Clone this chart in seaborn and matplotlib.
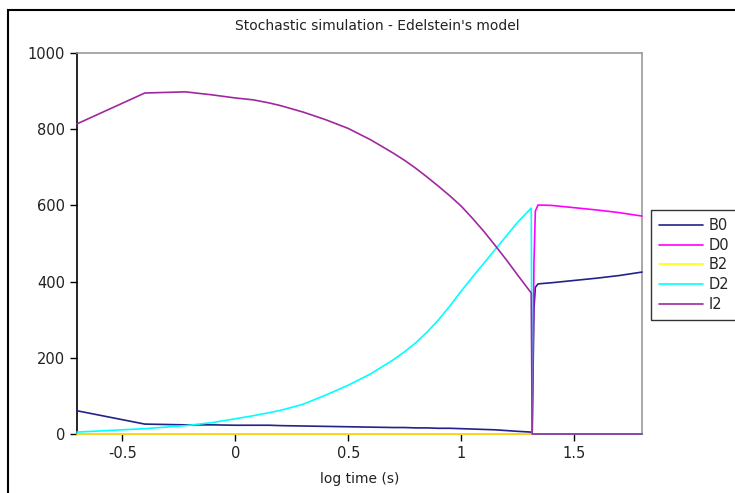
import numpy as np
import pandas as pd
import matplotlib
matplotlib.use("Agg")
import matplotlib.pyplot as plt
import seaborn as sns
from matplotlib.patches import Rectangle

# ---- data ----
log_time = [-0.7, -0.4, -0.22, -0.1, 0.0, 0.08, 0.15, 0.2, 0.3, 0.4, 0.5, 0.6, 0.7,
            0.75, 0.8, 0.85, 0.9, 0.95, 1.0, 1.05, 1.1, 1.15, 1.2, 1.25, 1.31,
            1.314, 1.322, 1.328, 1.34, 1.4, 1.5, 1.6, 1.7, 1.8]
B0 = [61, 26, 24, 24, 23, 23, 23, 22, 21, 20, 19, 18, 17,
      17, 16, 16, 15, 15, 14, 13, 12, 11, 9, 7, 5,
      1, 330, 385, 394, 397, 403, 409, 416, 425]
D0 = [0, 0, 0, 0, 0, 0, 0, 0, 0, 0, 0, 0, 0,
      0, 0, 0, 0, 0, 0, 0, 0, 0, 0, 0, 0,
      0, 450, 585, 601, 600, 594, 588, 581, 572]
B2 = [0] * 34
D2 = [5, 14, 22, 30, 40, 48, 56, 62, 78, 102, 128, 158, 195,
      216, 240, 268, 300, 336, 375, 412, 448, 484, 520, 556, 593,
      0, 0, 0, 0, 0, 0, 0, 0, 0]
I2 = [814, 895, 898, 890, 882, 877, 869, 862, 845, 825, 802, 772, 737,
      718, 697, 674, 650, 625, 598, 566, 532, 495, 457, 417, 370,
      0, 0, 0, 0, 0, 0, 0, 0, 0]
species = ["B0", "D0", "B2", "D2", "I2"]
colors = ["#22228a", "#ff00ff", "#ffff00", "#00ffff", "#a0289f"]
x_ticks = [-0.5, 0, 0.5, 1, 1.5]
x_ticklabels = ["-0.5", "0", "0.5", "1", "1.5"]
y_ticks = [0, 200, 400, 600, 800, 1000]

series = {"B0": B0, "D0": D0, "B2": B2, "D2": D2, "I2": I2}
df = pd.concat([pd.DataFrame({"log time": log_time, "value": v, "species": k})
                for k, v in series.items()], ignore_index=True)

sns.set_style("white")
plt.rcParams["font.family"] = ["DejaVu Sans"]
plt.rcParams["axes.unicode_minus"] = False

W, H = 735, 493
fig = plt.figure(figsize=(W / 100, H / 100), dpi=100)
ax = fig.add_axes([77 / W, (H - 434) / H, (642 - 77) / W, (434 - 53) / H])

sns.lineplot(data=df, x="log time", y="value", hue="species", hue_order=species,
             palette=colors, estimator=None, sort=False, linewidth=1.2, ax=ax,
             legend=True)
for ln in ax.get_lines():
    ln.set_zorder(3)
    ln.set_clip_on(False)

ax.set_xlim(-0.7, 1.8)
ax.set_ylim(0, 1000)
ax.set_xticks(x_ticks)
ax.set_xticklabels(x_ticklabels)
ax.set_yticks(y_ticks)
ax.tick_params(axis="both", direction="out", length=5, width=1, colors="black",
               labelsize=10.5, labelcolor="#222222", bottom=True, left=True)
ax.set_xlabel("log time (s)", fontsize=10, color="#222222", labelpad=8)
ax.set_ylabel("")
for s in ["left", "bottom"]:
    ax.spines[s].set_color("black")
    ax.spines[s].set_linewidth(1.2)
for s in ["top", "right"]:
    ax.spines[s].set_color("#999999")
    ax.spines[s].set_linewidth(1.2)

old = ax.get_legend()
handles = old.legend_handles
labels = [t.get_text() for t in old.texts]
old.remove()
leg = ax.legend(handles, labels, loc="upper left",
                bbox_to_anchor=(651 / W, (H - 210) / H), bbox_transform=fig.transFigure,
                borderaxespad=0, fancybox=False, frameon=True, fontsize=10.5,
                handlelength=3.0, handletextpad=0.4, labelspacing=0.32,
                borderpad=0.55)
leg.get_frame().set_edgecolor("black")
leg.get_frame().set_linewidth(1.0)
for h in leg.legend_handles:
    h.set_linewidth(1.2)

fig.text(377 / W, (H - 26) / H, "Stochastic simulation - Edelstein's model",
         ha="center", va="center", fontsize=10, color="#222222")

fig.patches.append(Rectangle((8 / W, -0.05), 1.0, (H - 10) / H + 0.05,
                             transform=fig.transFigure, fill=False,
                             edgecolor="black", linewidth=1.5, zorder=0))

fig.savefig("out.png", dpi=100)
